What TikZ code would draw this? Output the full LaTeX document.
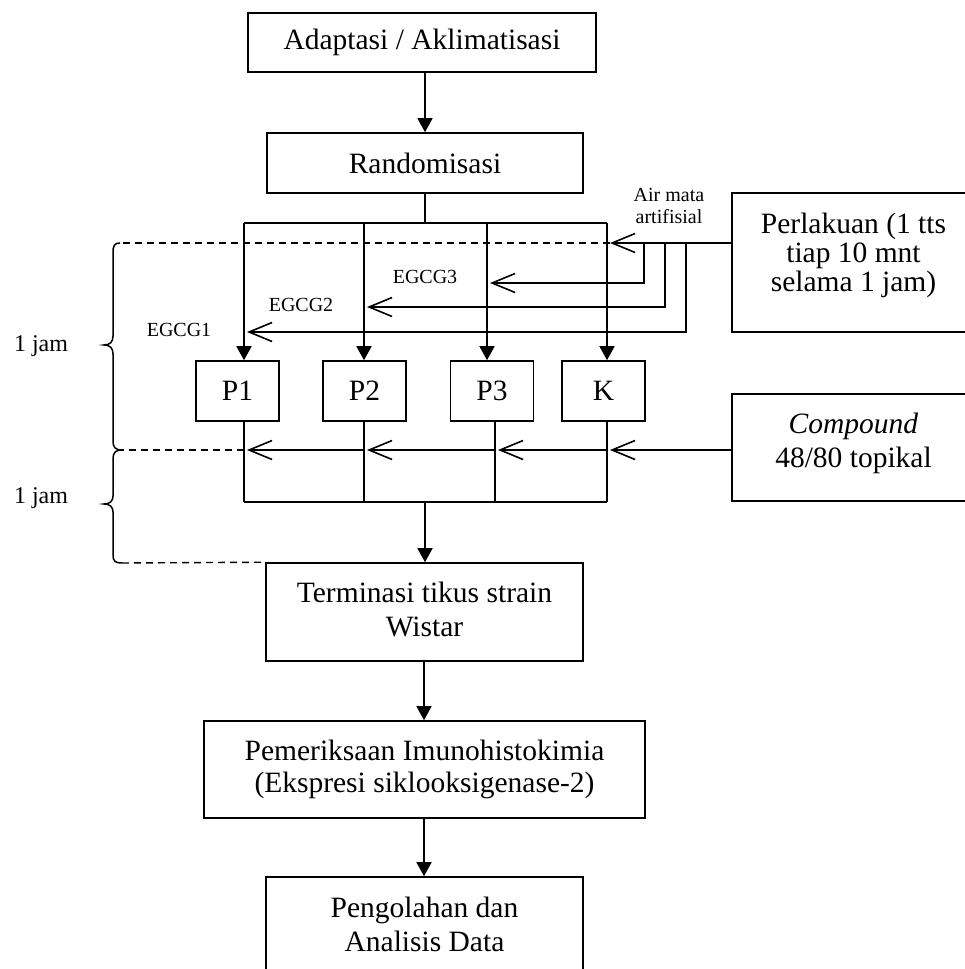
\documentclass[tikz,border=0pt]{standalone}
\usepackage{fontspec}
\setmainfont{Liberation Serif}
\usetikzlibrary{arrows.meta}
\newcommand\FontMain{\fontsize{29.5}{32}\selectfont}
\newcommand\FontTight{\fontsize{29.5}{29}\selectfont}
\newcommand\FontLoose{\fontsize{29.5}{34}\selectfont}
\newcommand\FontSmall{\fontsize{20}{22}\selectfont}
\newcommand\FontJam{\fontsize{24}{26}\selectfont}
\begin{document}
\begin{tikzpicture}[x=1pt,y=-1pt,
  box/.style={draw, line width=1.6pt, align=center, font=\FontMain, inner sep=0pt},
  pbox/.style={box, minimum width=83pt, minimum height=60pt},
  boxtext/.style={font=\FontMain, align=center, inner sep=0pt},
  small/.style={font=\FontSmall, align=center, inner sep=0pt},
  jam/.style={font=\FontJam, inner sep=0pt},
  conn/.style={line width=1.6pt},
  tri/.style={conn, -{Triangle[length=14pt,width=15pt]}},
  barb/.style={conn, -{Straight Barb[length=23pt,width=19pt]}},
  dashline/.style={line width=1.4pt, dash pattern=on 7pt off 5pt},
  bracepath/.style={line width=1.5pt}
]
\useasboundingbox (0,0) rectangle (965,969);
\clip (0,0) rectangle (965,969);

% boxes
\node[box, minimum width=348pt, minimum height=59pt] (adapt) at (422,42.5) {Adaptasi / Aklimatisasi};
\node[box, minimum width=316pt, minimum height=60pt] (rand) at (425,163) {Randomisasi};
\node[pbox] (p1) at (237.5,391) {P1};
\node[pbox] (p2) at (364.5,391) {P2};
\node[pbox] (p3) at (492,391) {P3};
\node[pbox] (k) at (603.5,391) {K};
\node[box, minimum width=243pt, minimum height=139pt,
  label={[name=perltext, boxtext, font=\FontTight, yshift=7pt]center:{Perlakuan (1 tts\\tiap 10 mnt\\selama 1 jam)}}] (perl) at (853.5,262.5) {};
\node[box, minimum width=243pt, minimum height=107pt,
  label={[name=comptext, boxtext, font=\FontLoose, yshift=4.5pt]center:{\textit{Compound}\\48/80 topikal}}] (comp) at (853.5,447.5) {};
\node[box, minimum width=317pt, minimum height=98pt,
  label={[name=termtext, boxtext, font=\FontLoose, yshift=3pt]center:{Terminasi tikus strain\\Wistar}}] (term) at (424.5,612) {};
\node[box, minimum width=441pt, minimum height=97pt] (pem) at (424.5,769.5) {Pemeriksaan Imunohistokimia\\(Ekspresi siklooksigenase-2)};
\node[box, minimum width=317pt, minimum height=98pt,
  label={[name=pengtext, boxtext, font=\FontLoose, yshift=2pt]center:{Pengolahan dan\\Analisis Data}}] (peng) at (424.5,926) {};

% labels
\node[small] (air) at (669,206) {Air mata\\artifisial};
\node[small] (e3) at (425,277) {EGCG3};
\node[small] (e2) at (301,305) {EGCG2};
\node[small] (e1) at (179,330) {EGCG1};
\node[jam] (j1) at (41,346) {1 jam};
\node[jam] (j2) at (41,498) {1 jam};

% top flow
\draw[tri] (rand.north |- adapt.south) -- (rand.north);
\coordinate (b1) at (244,223);
\coordinate (b2) at (364,223);
\coordinate (b3) at (487,223);
\coordinate (b4) at (607,223);
\draw[conn] (rand.south) -- (rand.south |- b1);
\draw[conn] (b1) -- (b4);
\draw[tri] (b1) -- (b1 |- p1.north);
\draw[tri] (b2) -- (b2 |- p2.north);
\draw[tri] (b3) -- (b3 |- p3.north);
\draw[tri] (b4) -- (b4 |- k.north);

% air mata artifisial / EGCG
\coordinate (a0) at (732,243);
\coordinate (a4) at (610,243);
\coordinate (dl1) at (120,243);
\draw[barb] (a0) -- (a4);
\draw[dashline] (a4) -- (dl1);
\draw[barb] (644,243) -- (644,283) -- (490,283);
\draw[barb] (665,243) -- (665,307) -- (367,307);
\draw[barb] (686,243) -- (686,332) -- (247,332);

% compound line
\coordinate (c0) at (732,450);
\coordinate (dl2) at (122,450);
\draw[barb] (c0) -- (610,450);
\draw[barb] (607,450) -- (498,450);
\draw[barb] (495,450) -- (367,450);
\draw[barb] (364,450) -- (247,450);
\draw[dashline] (244,450) -- (dl2);

% lower collection
\coordinate (d1) at (244,502);
\coordinate (d2) at (364,502);
\coordinate (d3) at (495,502);
\coordinate (d4) at (607,502);
\coordinate (dm) at (425,502);
\draw[conn] (d1 |- p1.south) -- (d1);
\draw[conn] (d2 |- p2.south) -- (d2);
\draw[conn] (d3 |- p3.south) -- (d3);
\draw[conn] (d4 |- k.south) -- (d4);
\draw[conn] (d1) -- (d4);
\draw[tri] (dm) -- (dm |- term.north);
\coordinate (dl3) at (122,563);
\draw[dashline] (dl3) -- (term.north west);

\draw[tri] ([xshift=-0.5pt]term.south) -- ([xshift=-0.5pt]pem.north);
\draw[tri] ([xshift=-0.5pt]pem.south) -- ([xshift=-0.5pt]peng.north);

% braces
\draw[bracepath] (dl1) .. controls (114,243) and (113,246) .. (113,253) -- (113,336)
  .. controls (113,342) and (110,345) .. (104,345)
  .. controls (110,345) and (113,348) .. (113,354) -- (113,441)
  .. controls (113,447) and (115,450) .. (dl2);
\draw[bracepath] (dl2) .. controls (115,450) and (113,453) .. (113,459) -- (113,496)
  .. controls (113,501) and (110,504) .. (104,504)
  .. controls (110,504) and (113,507) .. (113,512) -- (113,555)
  .. controls (113,561) and (115,563) .. (dl3);
\end{tikzpicture}
\end{document}
